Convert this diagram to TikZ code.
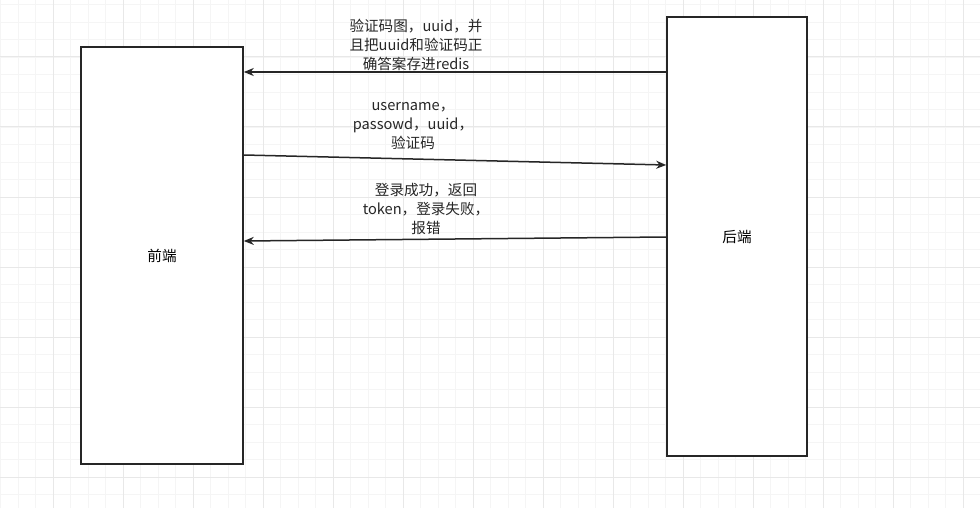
\documentclass[tikz,border=0pt]{standalone}
\usepackage{fontspec}
\setmainfont{Noto Sans CJK SC}
\usepackage{tikz}
\usetikzlibrary{arrows.meta,positioning}

\begin{document}
\begin{tikzpicture}[x=1pt, y=-1pt, >=Stealth, every node/.style={font=\fontsize{14.6}{19}\selectfont}]
  % Define colors
  \colorlet{gridminor}{black!4}
  \colorlet{gridmajor}{black!9}
  \colorlet{linecol}{black!85}
  \tikzset{
    sidebox/.style={draw=linecol, line width=1.6pt, fill=white, inner sep=0pt},
    msg/.style={->, line width=1.5pt, draw=linecol, -{Stealth[length=10pt, width=8pt]}},
    msglabel/.style={align=center, text=black!85}
  }

  \useasboundingbox (0,0) rectangle (980,508);
  \fill[white] (0,0) rectangle (980,508);

  % Background grid
  \foreach \gx in {0,...,56}
    \draw[gridminor, line width=0.8pt] (0.5+17.5*\gx,0) -- (0.5+17.5*\gx,508);
  \foreach \gy in {0,...,29}
    \draw[gridminor, line width=0.8pt] (0,4.5+17.5*\gy) -- (980,4.5+17.5*\gy);
  \foreach \gx in {0,...,13}
    \draw[gridmajor, line width=1pt] (53+70*\gx,0) -- (53+70*\gx,508);
  \foreach \gy in {0,...,6}
    \draw[gridmajor, line width=1pt] (0,57+70*\gy) -- (980,57+70*\gy);

  % Front end and back end
  \node[sidebox, minimum width=162pt, minimum height=417pt] (front) at (162,255.5) {前端};
  \node[sidebox, minimum width=140pt, minimum height=439pt] (back) at (737,236.5) {后端};

  % Messages
  \draw[msg] (back.west |- 0,72) -- (front.east |- 0,72);
  \draw[msg] (front.east |- 0,155) -- (back.west |- 0,165);
  \draw[msg] (back.west |- 0,237) -- (front.east |- 0,241);

  % Labels
  \node[msglabel] (captcha) at (416,45) {验证码图，uuid，并\\且把uuid和验证码正\\确答案存进redis};
  \node[msglabel] (login) at (413,126) {username，\\passowd，uuid，\\验证码};
  \node[msglabel] (result) at (426,209) {登录成功，返回\\token，登录失败，\\报错};
\end{tikzpicture}
\end{document}
